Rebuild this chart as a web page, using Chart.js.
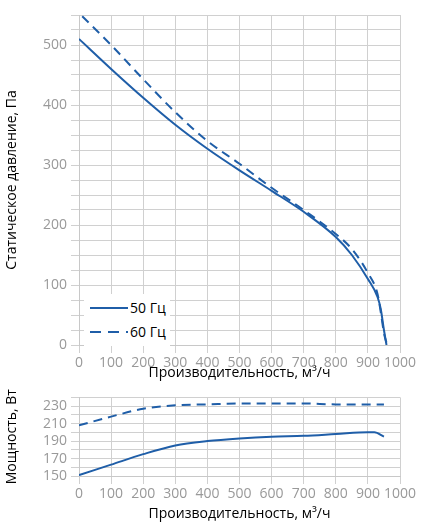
<!DOCTYPE html>
<html><head><meta charset="utf-8">
<script src="https://cdn.jsdelivr.net/npm/chart.js@4"></script>
<style>
body{margin:0;width:430px;height:526px;background:#fff;position:relative;font-family:"Open Sans",sans-serif}
#c1{position:absolute;left:0;top:0}
#c2{position:absolute;left:0;top:385px}
#leg{position:absolute;left:84px;top:294px;background:#fff;padding:2px 4px;font-size:14px;line-height:24px;color:#000}
#leg div{display:flex;align-items:center}
</style></head><body>
<canvas id="c1" width="430" height="385"></canvas>
<canvas id="c2" width="430" height="141"></canvas>
<div id="leg"><div><svg width="42" height="6"><line x1="2" y1="3" x2="40" y2="3" stroke="#1f5ea8" stroke-width="2.2"/></svg>50 Гц</div>
<div><svg width="42" height="6"><line x1="2" y1="3" x2="40" y2="3" stroke="#1f5ea8" stroke-width="2.2" stroke-dasharray="11,7"/></svg>60 Гц</div></div>
<script>
const flow50=[0,100,200,300,400,500,600,700,800,850,900,930,940,950,958];
const pres50=[510,460,412,367,327,291,257,222,180,150,110,80,60,25,0];
const flow60=[10,100,200,300,400,500,600,700,800,850,900,930,940,950,960];
const pres60=[548,500,443,388,340,302,262,225,185,160,120,85,55,20,0];
const pflow50=[0,100,200,300,400,500,600,700,800,900,920,950];
const pow50=[151,163,175,185,190,193,195,196,198,200,200,195];
const pflow60=[0,100,200,300,400,500,600,700,800,900,950];
const pow60=[208,218,227,231,232,233,233,233,232,232,232];
const xTitle='Производительность, м³/ч';
const col='#1f5ea8';
const pts=(xs,ys)=>xs.map((x,i)=>({x,y:ys[i]}));
const font={family:'"Open Sans",sans-serif',size:14};
const tfont={family:'"Open Sans",sans-serif',size:14};
function mk(id,d50,d60,ymin,ymax,step,lab,ylabMax,yTitle,pad,xh){
 new Chart(document.getElementById(id),{type:'line',
  data:{datasets:[
   {data:d50,borderColor:col,borderWidth:2,pointRadius:0,cubicInterpolationMode:'monotone'},
   {data:d60,borderColor:col,borderWidth:2,borderDash:[9,6],pointRadius:0,cubicInterpolationMode:'monotone'}]},
  options:{responsive:false,animation:false,layout:{padding:pad},
   plugins:{legend:{display:false},tooltip:{enabled:false}},
   scales:{
    x:{type:'linear',min:0,max:1000,ticks:{stepSize:100,autoSkip:false,color:'#999',font:tfont,maxRotation:0,padding:2,callback:v=>String(v)},
       grid:{color:'#d0d0d0'},border:{color:'#c8c8c8'},
       title:{display:true,text:xTitle,color:'#000',font,padding:{top:2}},
       afterFit:s=>{s.height=xh}},
    y:{min:ymin,max:ymax,ticks:{stepSize:step,autoSkip:false,color:'#999',font:tfont,padding:4,callback:v=>((v-ymin)%lab===0&&v<=ylabMax)?String(v):''},
       grid:{color:'#d0d0d0'},border:{color:'#c8c8c8'},
       title:{display:true,text:yTitle,color:'#000',font,padding:{bottom:4}},
       afterFit:s=>{s.width=79}}}}});
}
mk('c1',pts(flow50,pres50),pts(flow60,pres60),0,550,25,100,500,'Статическое давление, Па',{top:15,right:30,left:0,bottom:0},40);
mk('c2',pts(pflow50,pow50),pts(pflow60,pow60),150,240,10,20,230,'Мощность, Вт',{top:5,right:30,left:0,bottom:0},50);
</script></body></html>
